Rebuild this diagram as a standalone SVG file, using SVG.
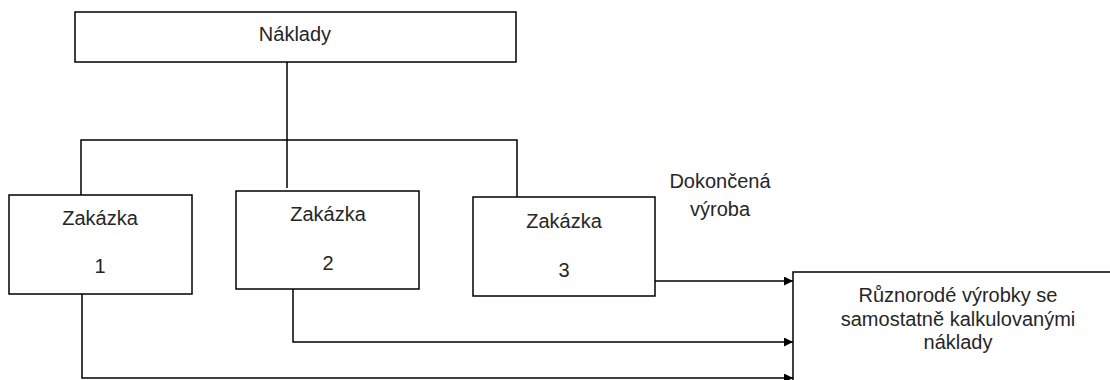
<svg xmlns="http://www.w3.org/2000/svg" width="1110" height="380" viewBox="0 0 1110 380">
  <defs>
    <style>
      .box { fill: #fff; stroke: #000; stroke-width: 1.5; }
      .wire { fill: none; stroke: #000; stroke-width: 1.5; }
      text { font-family: "Liberation Sans", Arial, sans-serif; font-size: 20px; fill: #262626; text-anchor: middle; dominant-baseline: central; }
    </style>
    <marker id="arrow" viewBox="0 0 10 10" refX="10" refY="5" markerWidth="9" markerHeight="9" markerUnits="userSpaceOnUse" orient="auto">
      <path d="M0,0 L10,5 L0,10 Z" fill="#000"/>
    </marker>
  </defs>
  <rect width="1110" height="380" fill="#fff"/>

  <g id="connectors">
    <!-- cost distribution from the top box to the orders -->
    <path class="wire" d="M287,62 V188"/>
    <path class="wire" d="M81,196 V140 H517 V197"/>
    <!-- flows into the finished products -->
    <path class="wire" d="M655,281 H793" marker-end="url(#arrow)"/>
    <path class="wire" d="M293,289 V342 H793" marker-end="url(#arrow)"/>
    <path class="wire" d="M82,294 V378 H793" marker-end="url(#arrow)"/>
  </g>

  <g id="naklady">
    <rect class="box" x="75" y="12" width="441" height="50"/>
    <text x="295" y="34">Náklady</text>
  </g>

  <g id="zakazka1">
    <rect class="box" x="9" y="195" width="183" height="99"/>
    <text x="100" y="218">Zakázka</text>
    <text x="100" y="266">1</text>
  </g>

  <g id="zakazka2">
    <rect class="box" x="236" y="191" width="183" height="98"/>
    <text x="328" y="214">Zakázka</text>
    <text x="328" y="263">2</text>
  </g>

  <g id="zakazka3">
    <rect class="box" x="473" y="197" width="182" height="99"/>
    <text x="564" y="221">Zakázka</text>
    <text x="564" y="270">3</text>
  </g>

  <g id="dokoncena-vyroba">
    <text x="720" y="181">Dokončená</text>
    <text x="720" y="209">výroba</text>
  </g>

  <g id="vyrobky">
    <rect class="box" x="793" y="272" width="330" height="120"/>
    <text x="958" y="295">Různorodé výrobky se</text>
    <text x="958" y="319">samostatně kalkulovanými</text>
    <text x="958" y="342">náklady</text>
  </g>
</svg>
